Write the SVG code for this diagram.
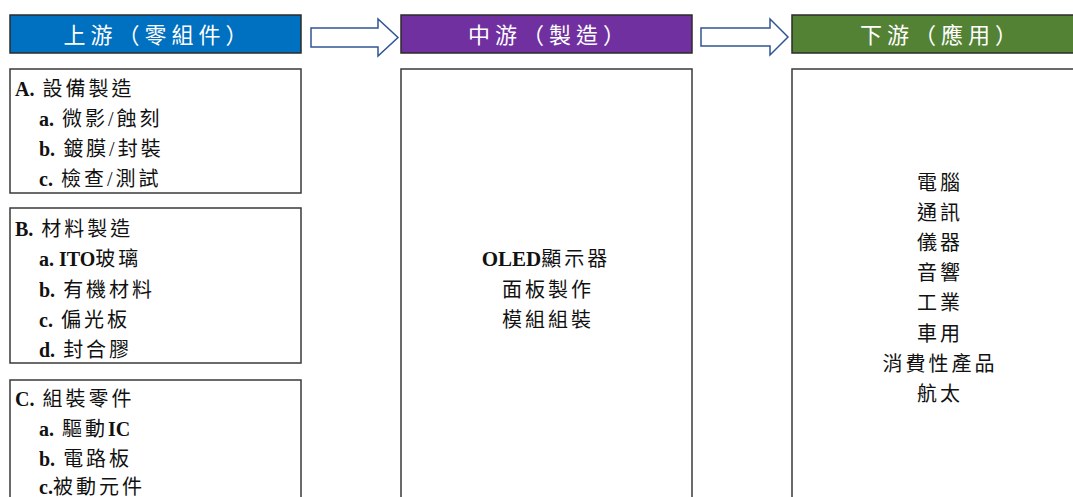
<svg xmlns="http://www.w3.org/2000/svg" width="1073" height="497" viewBox="0 0 1073 497">
<style>
.hdr{stroke:#2b2b2b;stroke-width:1.5}
.box{fill:#fff;stroke:#3a3a3a;stroke-width:1.5}
.ht{font-family:"Noto Sans CJK TC","Noto Sans CJK SC",sans-serif;font-size:22px;fill:#fff;letter-spacing:5px;text-anchor:middle}
.t{font-family:"Liberation Serif","Noto Sans CJK TC",serif;font-size:20px;fill:#111;letter-spacing:3px}
.c{text-anchor:middle}
.lat{font-family:"Liberation Serif",serif;font-weight:bold;letter-spacing:0}
.arr{fill:#fff;stroke:#2f5597;stroke-width:1.5;stroke-linejoin:miter}
</style>
<rect width="1073" height="497" fill="#fff"/>
<g id="upstream-header">
<rect class="hdr" x="10" y="15" width="291" height="38" fill="#0070c0"/>
<text class="ht" x="158" y="43">上游（零組件）</text>
</g>
<g id="midstream-header">
<rect class="hdr" x="401" y="15" width="291" height="38" fill="#7030a0"/>
<text class="ht" x="549" y="43">中游（製造）</text>
</g>
<g id="downstream-header">
<rect class="hdr" x="792" y="15" width="300" height="38" fill="#548235"/>
<text class="ht" x="941" y="43">下游（應用）</text>
</g>
<g id="box-a">
<rect class="box" x="10" y="69" width="291" height="124"/>
<text class="t" x="15" y="96"><tspan class="lat">A.</tspan> 設備製造</text>
<text class="t" x="39" y="126"><tspan class="lat">a.</tspan> 微影/蝕刻</text>
<text class="t" x="39" y="156"><tspan class="lat">b.</tspan> 鍍膜/封裝</text>
<text class="t" x="39" y="186"><tspan class="lat">c.</tspan> 檢查/測試</text>
</g>
<g id="box-b">
<rect class="box" x="10" y="208" width="291" height="155"/>
<text class="t" x="15" y="236"><tspan class="lat">B.</tspan> 材料製造</text>
<text class="t" x="39" y="266"><tspan class="lat">a. ITO</tspan>玻璃</text>
<text class="t" x="39" y="297"><tspan class="lat">b.</tspan> 有機材料</text>
<text class="t" x="39" y="327"><tspan class="lat">c.</tspan> 偏光板</text>
<text class="t" x="39" y="357"><tspan class="lat">d.</tspan> 封合膠</text>
</g>
<g id="box-c">
<rect class="box" x="10" y="380" width="291" height="130"/>
<text class="t" x="15" y="406"><tspan class="lat">C.</tspan> 組裝零件</text>
<text class="t" x="39" y="436"><tspan class="lat">a.</tspan> 驅動<tspan class="lat">IC</tspan></text>
<text class="t" x="39" y="466"><tspan class="lat">b.</tspan> 電路板</text>
<text class="t" x="39" y="494"><tspan class="lat">c.</tspan>被動元件</text>
</g>
<g id="midstream-box">
<rect class="box" x="401" y="69" width="291" height="440"/>
<text class="t c" x="546" y="266"><tspan class="lat" style="font-size:21px">OLED</tspan>顯示器</text>
<text class="t c" x="548" y="297">面板製作</text>
<text class="t c" x="548" y="327">模組組裝</text>
</g>
<g id="downstream-box">
<rect class="box" x="792" y="69" width="300" height="440"/>
<text class="t c" x="940" y="190">電腦</text>
<text class="t c" x="940" y="220">通訊</text>
<text class="t c" x="940" y="250">儀器</text>
<text class="t c" x="940" y="280">音響</text>
<text class="t c" x="940" y="310">工業</text>
<text class="t c" x="940" y="341">車用</text>
<text class="t c" x="940" y="371">消費性產品</text>
<text class="t c" x="940" y="401">航太</text>
</g>
<g id="connectors">
<path class="arr" d="M311,28 H378 V19 L398,37.5 L378,56 V47 H311 Z"/>
<path class="arr" d="M701,28 H770 V19 L788,37 L770,55 V46 H701 Z"/>
</g>
</svg>
